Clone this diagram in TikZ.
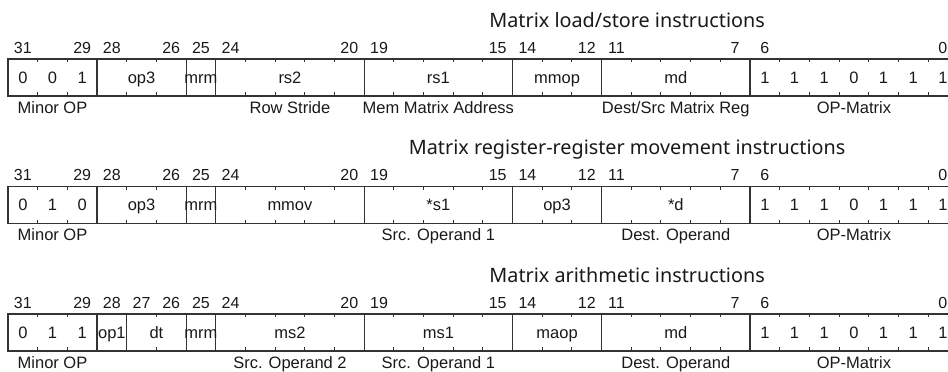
\documentclass[tikz,border=0pt]{standalone}
\usepackage{fontspec}
\setmainfont{Liberation Sans}
\newfontfamily\titlefont{Noto Sans}
\usepackage{tikz}
\usetikzlibrary{calc}

\tikzset{
  regline/.style={draw=black!80, line width=1.1pt},
  regtick/.style={draw=black!80, line width=1pt},
  bitnum/.style={font=\fontsize{16}{16}\selectfont, text=black!90, anchor=base, inner sep=0pt},
  fieldtxt/.style={font=\fontsize{16.5}{17}\selectfont, text=black!90, anchor=base, inner sep=0pt},
  fieldlbl/.style={font=\fontsize{16.5}{17}\selectfont, text=black!90, anchor=base, inner sep=0pt},
  rowtitle/.style={font=\titlefont\fontsize{19.8}{20}\selectfont, text=black!90, anchor=base, inner sep=0pt}
}

\begin{document}
\begin{tikzpicture}[x=29.68pt, y=1pt]
\useasboundingbox (-8pt,0pt) rectangle (940pt,372pt);
\clip (-8pt,0pt) rectangle (940pt,372pt);

% Load/store row
\begin{scope}[yshift=276pt]
\node[rowtitle] (title1) at (20.86,68.5) {Matrix load/store instructions};
\draw[regline] (0,0) rectangle (32,37);
\foreach \x in {1,...,31} {
    \draw[regtick] (\x,0) -- ++(0,3.5) (\x,37) -- ++(0,-3.5);
}
\foreach \x in {3,6,7,12,17,20,25} {
    \draw[regline] (\x,0) -- (\x,37);
}
\foreach \n in {31,29,28,26,25,24,20,19,15,14,12,11,7,6,0} {
    \node[bitnum] (bit1-\n) at (31.5-\n,42.5) {\n};
}
\foreach \x/\txt [count=\i] in {4.5/op3, 6.5/mrm, 9.5/rs2, 14.5/rs1, 18.5/mmop, 22.5/md} {
    \node[fieldtxt] (fld1-\i) at (\x,12.5) {\txt};
}
\foreach \v [count=\k] in {0,0,1} {
    \node[fieldtxt] (minor1-\k) at (\k-0.5,12.5) {\v};
}
\foreach \v [count=\k] in {1,1,1,0,1,1,1} {
    \node[fieldtxt] (opm1-\k) at (24.5+\k,12.5) {\v};
}
\foreach \x/\lbl [count=\i] in {1.5/Minor OP, 9.5/Row Stride, 14.5/Mem Matrix Address, 22.5/{Dest/Src Matrix Reg}, 28.5/OP-Matrix} {
    \node[fieldlbl] (lbl1-\i) at (\x,-17.3) {\lbl};
}
\end{scope}

% Register-register movement row
\begin{scope}[yshift=148.5pt]
\node[rowtitle] (title2) at (20.86,68.5) {Matrix register-register movement instructions};
\draw[regline] (0,0) rectangle (32,37);
\foreach \x in {1,...,31} {
    \draw[regtick] (\x,0) -- ++(0,3.5) (\x,37) -- ++(0,-3.5);
}
\foreach \x in {3,6,7,12,17,20,25} {
    \draw[regline] (\x,0) -- (\x,37);
}
\foreach \n in {31,29,28,26,25,24,20,19,15,14,12,11,7,6,0} {
    \node[bitnum] (bit2-\n) at (31.5-\n,42.5) {\n};
}
\foreach \x/\txt [count=\i] in {4.5/op3, 6.5/mrm, 9.5/mmov, 14.5/*s1, 18.5/op3, 22.5/*d} {
    \node[fieldtxt] (fld2-\i) at (\x,12.5) {\txt};
}
\foreach \v [count=\k] in {0,1,0} {
    \node[fieldtxt] (minor2-\k) at (\k-0.5,12.5) {\v};
}
\foreach \v [count=\k] in {1,1,1,0,1,1,1} {
    \node[fieldtxt] (opm2-\k) at (24.5+\k,12.5) {\v};
}
\foreach \x/\lbl [count=\i] in {1.5/Minor OP, 14.5/Src. Operand 1, 22.5/Dest. Operand, 28.5/OP-Matrix} {
    \node[fieldlbl] (lbl2-\i) at (\x,-17.3) {\lbl};
}
\end{scope}

% Arithmetic row
\begin{scope}[yshift=21pt]
\node[rowtitle] (title3) at (20.86,68.5) {Matrix arithmetic instructions};
\draw[regline] (0,0) rectangle (32,37);
\foreach \x in {1,...,31} {
    \draw[regtick] (\x,0) -- ++(0,3.5) (\x,37) -- ++(0,-3.5);
}
\foreach \x in {3,4,6,7,12,17,20,25} {
    \draw[regline] (\x,0) -- (\x,37);
}
\foreach \n in {31,29,28,27,26,25,24,20,19,15,14,12,11,7,6,0} {
    \node[bitnum] (bit3-\n) at (31.5-\n,42.5) {\n};
}
\foreach \x/\txt [count=\i] in {3.5/op1, 5/dt, 6.5/mrm, 9.5/ms2, 14.5/ms1, 18.5/maop, 22.5/md} {
    \node[fieldtxt] (fld3-\i) at (\x,12.5) {\txt};
}
\foreach \v [count=\k] in {0,1,1} {
    \node[fieldtxt] (minor3-\k) at (\k-0.5,12.5) {\v};
}
\foreach \v [count=\k] in {1,1,1,0,1,1,1} {
    \node[fieldtxt] (opm3-\k) at (24.5+\k,12.5) {\v};
}
\foreach \x/\lbl [count=\i] in {1.5/Minor OP, 9.5/Src. Operand 2, 14.5/Src. Operand 1, 22.5/Dest. Operand, 28.5/OP-Matrix} {
    \node[fieldlbl] (lbl3-\i) at (\x,-17.3) {\lbl};
}
\end{scope}

\end{tikzpicture}
\end{document}
